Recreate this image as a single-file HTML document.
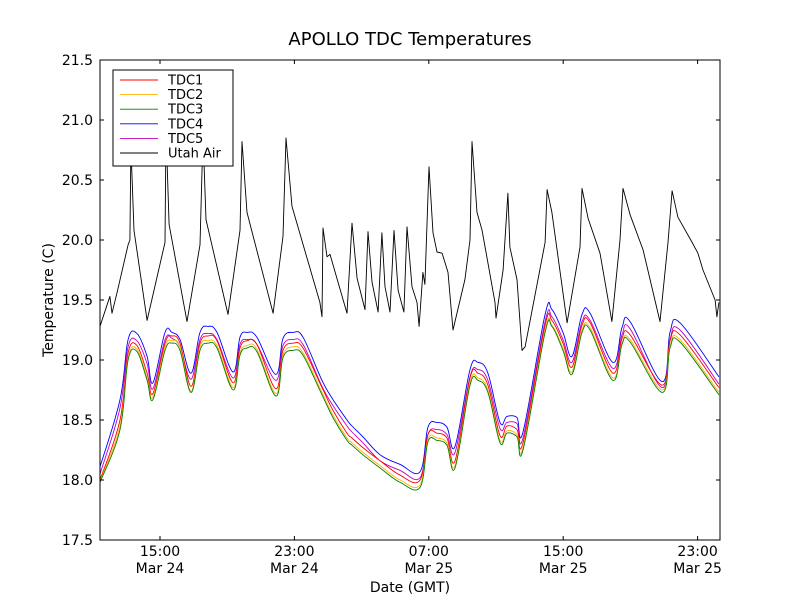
<!DOCTYPE html>
<html><head><meta charset="utf-8"><style>
body{margin:0;background:#fff;}
svg text{font-family:"DejaVu Sans","Liberation Sans",sans-serif;}
</style></head><body>
<svg id="chart" width="800" height="600" xmlns="http://www.w3.org/2000/svg">
<rect x="0" y="0" width="800" height="600" fill="#fff"/>
<text x="410" y="45" font-size="18" text-anchor="middle">APOLLO TDC Temperatures</text>
<rect x="100" y="60" width="620" height="480" fill="#fff" stroke="none"/>
<g id="series"></g>
<g id="axes"></g>
<rect x="100" y="60" width="620" height="480" fill="none" stroke="#000" stroke-width="1"/>
<text x="410" y="592" font-size="14" text-anchor="middle">Date (GMT)</text>
<text x="53" y="300" font-size="14" text-anchor="middle" transform="rotate(-90 53 300)">Temperature (C)</text>
<g id="legend"></g>
</svg>
<script>
// time in hours since Mar 24 00:00 GMT
const tdcTimes=[11.43,12.62,13.10,13.63,14.23,14.58,15.30,15.71,16.19,16.85,17.38,17.86,18.39,19.35,19.76,20.18,20.77,21.90,22.32,22.92,23.51,24.64,25.30,26.13,26.43,27.08,28.10,29.29,30.48,30.95,31.49,32.08,32.56,33.45,33.93,34.52,35.24,35.65,36.25,36.61,37.92,38.33,38.99,39.52,40.12,40.60,41.96,42.50,42.98,44.88,45.36,45.95,48.27];
const tdc4=[18.11,18.67,19.17,19.22,19.03,18.81,19.23,19.23,19.17,18.89,19.23,19.28,19.23,18.90,19.19,19.23,19.19,18.88,19.18,19.23,19.19,18.83,18.67,18.50,18.45,18.36,18.21,18.13,18.07,18.44,18.48,18.44,18.28,18.92,18.98,18.89,18.48,18.53,18.52,18.40,19.38,19.42,19.23,19.03,19.38,19.39,18.98,19.27,19.32,18.82,19.23,19.31,18.86];
const tdc5=[18.05,18.60,19.11,19.16,18.97,18.76,19.17,19.18,19.11,18.84,19.17,19.22,19.17,18.85,19.13,19.17,19.13,18.83,19.12,19.17,19.13,18.78,18.62,18.45,18.40,18.31,18.16,18.08,18.02,18.38,18.42,18.38,18.23,18.86,18.92,18.83,18.43,18.48,18.47,18.35,19.32,19.36,19.17,18.98,19.32,19.33,18.93,19.21,19.26,18.77,19.17,19.25,18.80];
const tdc1=[18.00,18.50,19.06,19.12,18.89,18.72,19.14,19.20,19.14,18.78,19.14,19.20,19.16,18.81,19.10,19.16,19.13,18.76,19.08,19.14,19.10,18.77,18.58,18.39,18.35,18.27,18.16,18.04,18.00,18.38,18.39,18.35,18.16,18.85,18.89,18.79,18.37,18.45,18.42,18.31,19.29,19.33,19.14,18.94,19.29,19.31,18.89,19.18,19.21,18.79,19.16,19.21,18.77];
const tdc2=[17.99,18.45,19.02,19.09,18.85,18.69,19.11,19.16,19.11,18.74,19.11,19.16,19.12,18.77,19.06,19.12,19.09,18.72,19.04,19.11,19.06,18.73,18.54,18.35,18.31,18.23,18.12,18.00,17.96,18.34,18.35,18.31,18.12,18.81,18.85,18.75,18.33,18.41,18.38,18.27,19.25,19.29,19.10,18.90,19.25,19.27,18.85,19.14,19.17,18.75,19.12,19.17,18.73];
const tdc3=[17.98,18.42,19.00,19.07,18.83,18.67,19.08,19.14,19.08,18.73,19.08,19.14,19.10,18.75,19.04,19.10,19.07,18.70,19.02,19.08,19.04,18.71,18.52,18.33,18.29,18.21,18.10,17.98,17.94,18.32,18.33,18.29,18.10,18.79,18.83,18.73,18.31,18.39,18.36,18.25,19.23,19.28,19.08,18.88,19.23,19.25,18.83,19.13,19.15,18.73,19.10,19.15,18.71];
const airTimes=[11.43,11.85,12.02,12.14,12.44,13.10,13.21,13.27,13.45,14.23,15.30,15.36,15.54,16.61,17.38,17.56,17.74,19.05,19.76,19.88,20.18,21.73,22.32,22.50,22.86,24.52,24.64,24.70,24.94,25.12,26.13,26.43,26.73,27.20,27.38,27.62,27.98,28.21,28.39,28.69,28.93,29.17,29.52,29.70,30.00,30.30,30.42,30.65,30.77,31.01,31.25,31.49,31.79,32.14,32.44,33.15,33.45,33.57,33.87,34.17,34.94,35.00,35.42,35.71,35.83,36.25,36.55,36.73,37.92,38.04,38.33,39.23,40.00,40.12,40.48,41.19,41.90,42.38,42.56,42.98,43.75,44.76,45.24,45.48,45.83,46.67,47.02,47.32,48.04,48.15,48.27];
const airTemp=[19.28,19.46,19.53,19.39,19.56,19.96,20.00,20.78,20.08,19.33,19.98,20.92,20.13,19.32,19.96,20.88,20.17,19.38,20.08,20.82,20.23,19.39,20.03,20.85,20.28,19.48,19.36,20.10,19.86,19.88,19.39,20.14,19.68,19.42,20.07,19.65,19.40,20.06,19.61,19.40,20.08,19.58,19.40,20.11,19.61,19.48,19.28,19.73,19.63,20.61,20.06,19.90,19.89,19.73,19.25,19.67,20.00,20.82,20.23,20.08,19.48,19.35,19.75,20.39,19.94,19.67,19.08,19.11,19.98,20.42,20.23,19.31,19.94,20.43,20.18,19.89,19.32,20.00,20.43,20.21,19.92,19.32,19.98,20.41,20.19,19.98,19.89,19.75,19.50,19.36,19.48];
const yTicks=[17.5,18.0,18.5,19.0,19.5,20.0,20.5,21.0,21.5];
const xTickHours=[15,23,31,39,47];
const xTickTimes=["15:00","23:00","07:00","15:00","23:00"];
const xTickDates=["Mar 24","Mar 24","Mar 25","Mar 25","Mar 25"];
const seriesNames=["TDC1","TDC2","TDC3","TDC4","TDC5","Utah Air"];
const seriesColors=["#ff0000","#ffb000","#008000","#0000ff","#bf00bf","#000000"];

const NS="http://www.w3.org/2000/svg";
function xs(t){return 160+(t-15)*16.8;}
function ys(v){return 540-(v-17.5)*120;}
function mk(tag,attrs,parent){const e=document.createElementNS(NS,tag);for(const k in attrs)e.setAttribute(k,attrs[k]);parent.appendChild(e);return e;}
function linePath(pts){return pts.map((p,j)=>(j?'L':'M')+p[0].toFixed(1)+' '+p[1].toFixed(1)).join(' ');}
function smoothPath(pts){
  let d='M'+pts[0][0].toFixed(1)+' '+pts[0][1].toFixed(1);
  const k=0.18;
  for(let i=0;i<pts.length-1;i++){
    const p0=pts[Math.max(0,i-1)],p1=pts[i],p2=pts[i+1],p3=pts[Math.min(pts.length-1,i+2)];
    const c1=[p1[0]+(p2[0]-p0[0])*k,p1[1]+(p2[1]-p0[1])*k];
    const c2=[p2[0]-(p3[0]-p1[0])*k,p2[1]-(p3[1]-p1[1])*k];
    d+=' C'+c1[0].toFixed(1)+' '+c1[1].toFixed(1)+' '+c2[0].toFixed(1)+' '+c2[1].toFixed(1)+' '+p2[0].toFixed(1)+' '+p2[1].toFixed(1);
  }
  return d;
}
const sg=document.getElementById('series');
const datasets=[[tdcTimes,tdc1],[tdcTimes,tdc2],[tdcTimes,tdc3],[tdcTimes,tdc4],[tdcTimes,tdc5],[airTimes,airTemp]];
const order=[5,3,4,0,1,2];
order.forEach(i=>{
  const [tt,vv]=datasets[i];
  const pts=tt.map((t,j)=>[xs(t),ys(vv[j])]);
  const d=(i===5)?linePath(pts):smoothPath(pts);
  const p=mk('path',{d:d,fill:'none',stroke:seriesColors[i],'stroke-width':0.9,'stroke-linejoin':'round'},sg);
  
  
});
const ag=document.getElementById('axes');
yTicks.forEach(v=>{
  const y=ys(v);
  mk('line',{x1:100,x2:104,y1:y,y2:y,stroke:'#000'},ag);
  mk('line',{x1:716,x2:720,y1:y,y2:y,stroke:'#000'},ag);
  const t=mk('text',{x:93,y:y+5,'font-size':14,'text-anchor':'end'},ag);
  t.textContent=v.toFixed(1);
  
  
});
xTickHours.forEach((h,i)=>{
  const x=xs(h);
  mk('line',{x1:x,x2:x,y1:540,y2:536,stroke:'#000'},ag);
  mk('line',{x1:x,x2:x,y1:60,y2:64,stroke:'#000'},ag);
  const t=mk('text',{x:x,y:556,'font-size':14,'text-anchor':'middle'},ag);
  t.textContent=xTickTimes[i];
  
  
  const t2=mk('text',{x:x,y:573,'font-size':14,'text-anchor':'middle'},ag);
  t2.textContent=xTickDates[i];
  
  
});
const lg=document.getElementById('legend');
const box=mk('rect',{x:113,y:70,width:120,height:96,fill:'#fff',stroke:'#000','stroke-width':1},lg);


seriesNames.forEach((n,i)=>{
  const y=80+i*14.6;
  const l=mk('line',{x1:120,x2:158,y1:y,y2:y,stroke:seriesColors[i],'stroke-width':0.9},lg);
  
  
  const t=mk('text',{x:168,y:y+4.5,'font-size':13},lg);
  t.textContent=n;
  
  
});
</script>
</body></html>
